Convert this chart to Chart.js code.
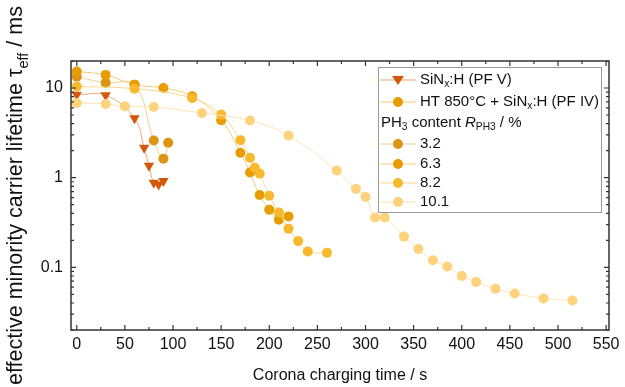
<!DOCTYPE html>
<html><head><meta charset="utf-8">
<script src="https://cdn.jsdelivr.net/npm/chart.js@4.4.0/dist/chart.umd.min.js"></script>
<style>html,body{margin:0;padding:0;background:#fff;}canvas{display:block;}</style>
</head><body>
<canvas id="c" width="625" height="387"></canvas>
<script>
// ---- tick labels ----
const xTickLabels = [0, 50, 100, 150, 200, 250, 300, 350, 400, 450, 500, 550];
const yTickLabels = [0.1, 1, 10];

// ---- series: SiNx:H (PF V) ----
const pfvTime = [0, 30, 60, 70, 75, 80, 85, 90];
const pfvTau  = [8.4, 8.3, 4.6, 2.15, 1.36, 0.88, 0.84, 0.92];

// ---- series: PH3 content 3.2 % ----
const p32Time = [0, 30, 60, 80, 90, 95];
const p32Tau  = [13.4, 11.4, 10.9, 2.6, 1.63, 2.45];

// ---- series: PH3 content 6.3 % ----
const p63Time = [0, 30, 60, 90, 120, 150, 170, 180, 190, 200, 210, 220];
const p63Tau  = [15.3, 14.0, 10.9, 10.0, 8.07, 4.37, 1.9, 1.14, 0.64, 0.44, 0.34, 0.37];

// ---- series: PH3 content 8.2 % ----
const p82Time = [0, 60, 120, 150, 170, 180, 185, 190, 200, 210, 220, 230, 240, 260];
const p82Tau  = [10.4, 9.8, 7.7, 5.05, 2.62, 1.67, 1.29, 1.11, 0.63, 0.41, 0.27, 0.196, 0.15, 0.145];

// ---- series: PH3 content 10.1 % ----
const p101Time = [0, 30, 50, 80, 130, 180, 220, 270, 290, 300, 310, 320, 340, 355, 370, 385, 400, 415, 435, 455, 485, 515];
const p101Tau  = [6.8, 6.64, 6.24, 6.15, 5.27, 4.33, 2.95, 1.2, 0.75, 0.61, 0.36, 0.36, 0.22, 0.16, 0.12, 0.102, 0.08, 0.0686, 0.0576, 0.051, 0.045, 0.0426];

const FONT = '"Liberation Sans", Arial, Helvetica, sans-serif';
const col = {
  pfv:  {m: '#d4580c', l: '#eea67a'},
  p32:  {m: '#dc9414', l: '#f0cf95'},
  p63:  {m: '#e79c00', l: '#f5cd7a'},
  p82:  {m: '#f8b92e', l: '#fbd98e'},
  p101: {m: '#fdd27c', l: '#fde4b4'}
};
function pts(t, v) { return t.map((x, i) => ({x: x, y: v[i]})); }
function ds(label, t, v, c, style) {
  return {
    label, data: pts(t, v),
    borderColor: c.l, borderWidth: 1,
    backgroundColor: c.m, pointBackgroundColor: c.m, pointBorderColor: c.m,
    pointBorderWidth: 0,
    pointStyle: style || 'circle',
    pointRotation: style === 'triangle' ? 180 : 0,
    pointRadius: style === 'triangle' ? 6 : 5,
    tension: 0.4, fill: false
  };
}

// rich text helper
function richWidth(ctx, parts, size) {
  let w = 0;
  for (const p of parts) {
    const s = p.sub ? size * 0.68 : size;
    ctx.font = (p.it ? 'italic ' : '') + s + 'px ' + FONT;
    w += ctx.measureText(p.t).width;
  }
  return w;
}
function drawRich(ctx, x, y, parts, size) {
  for (const p of parts) {
    const s = p.sub ? size * 0.68 : size;
    ctx.font = (p.it ? 'italic ' : '') + s + 'px ' + FONT;
    ctx.fillText(p.t, x, y + (p.sub ? size * 0.28 : 0));
    x += ctx.measureText(p.t).width;
  }
  return x;
}

const framePlugin = {
  id: 'frame',
  afterDraw(chart) {
    const ctx = chart.ctx, a = chart.chartArea;
    const xs = chart.scales.x, ys = chart.scales.y;
    ctx.save();
    ctx.strokeStyle = '#333'; ctx.lineWidth = 1.5;
    ctx.strokeRect(a.left, a.top, a.right - a.left, a.bottom - a.top);
    ctx.lineWidth = 1.2;
    ctx.beginPath();
    // x ticks
    for (let i = 0; i < xTickLabels.length; i++) {
      const v = xTickLabels[i];
      const px = xs.getPixelForValue(v);
      ctx.moveTo(px, a.bottom); ctx.lineTo(px, a.bottom - 5);
      ctx.moveTo(px, a.top); ctx.lineTo(px, a.top + 5);
      if (i < xTickLabels.length - 1) {
        const m = xs.getPixelForValue((v + xTickLabels[i + 1]) / 2);
        ctx.moveTo(m, a.bottom); ctx.lineTo(m, a.bottom - 3);
        ctx.moveTo(m, a.top); ctx.lineTo(m, a.top + 3);
      }
    }
    // y ticks (log)
    for (const dec of [0.01, 0.1, 1, 10]) {
      for (let k = 1; k <= 9; k++) {
        const v = dec * k;
        if (v < ys.min - 1e-9 || v > ys.max + 1e-9) continue;
        const py = ys.getPixelForValue(v);
        const len = k === 1 ? 5 : 3;
        ctx.moveTo(a.left, py); ctx.lineTo(a.left + len, py);
        ctx.moveTo(a.right, py); ctx.lineTo(a.right - len, py);
      }
    }
    ctx.stroke();

    // axis titles
    ctx.fillStyle = '#111';
    ctx.textBaseline = 'middle'; ctx.textAlign = 'center';
    ctx.font = '16px ' + FONT;
    ctx.fillText('Corona charging time / s', (a.left + a.right) / 2, 376);

    ctx.textAlign = 'left'; ctx.textBaseline = 'alphabetic';
    const yParts = [{t: 'effective minority carrier lifetime \u03C4'}, {t: 'eff', sub: true}, {t: ' / ms'}];
    const ysz = 21.5;
    const w = richWidth(ctx, yParts, ysz);
    ctx.translate(22, (a.top + a.bottom) / 2);
    ctx.rotate(-Math.PI / 2);
    drawRich(ctx, -w / 2, 0, yParts, ysz);
    ctx.restore();

    // legend
    ctx.save();
    const L = {x: 378, y: 67, w: 223, h: 145};
    ctx.fillStyle = '#fff';
    ctx.fillRect(L.x, L.y, L.w, L.h);
    ctx.strokeStyle = '#999'; ctx.lineWidth = 1;
    ctx.strokeRect(L.x + 0.5, L.y + 0.5, L.w, L.h);
    const rows = [
      {y: 80,  c: col.pfv, tri: true, parts: [{t: 'SiN'}, {t: 'x', sub: true}, {t: ':H (PF V)'}]},
      {y: 102, c: col.p63, parts: [{t: 'HT 850\u00B0C + SiN'}, {t: 'x', sub: true}, {t: ':H (PF IV)'}]},
      {y: 123, head: true, parts: [{t: 'PH'}, {t: '3', sub: true}, {t: ' content '}, {t: 'R', it: true}, {t: 'PH3', sub: true}, {t: ' / %'}]},
      {y: 144, c: col.p32, parts: [{t: '3.2'}]},
      {y: 164, c: col.p63, parts: [{t: '6.3'}]},
      {y: 183, c: col.p82, parts: [{t: '8.2'}]},
      {y: 202, c: col.p101, parts: [{t: '10.1'}]}
    ];
    ctx.textBaseline = 'middle';
    for (const r of rows) {
      ctx.fillStyle = '#111';
      if (r.head) { drawRich(ctx, 381, r.y, r.parts, 15); continue; }
      ctx.strokeStyle = r.c.l; ctx.lineWidth = 1.2;
      ctx.beginPath(); ctx.moveTo(380, r.y); ctx.lineTo(416, r.y); ctx.stroke();
      ctx.fillStyle = r.c.m;
      ctx.beginPath();
      if (r.tri) {
        ctx.moveTo(392, r.y - 4); ctx.lineTo(404, r.y - 4); ctx.lineTo(398, r.y + 5); ctx.closePath();
      } else {
        ctx.arc(398, r.y, 5, 0, Math.PI * 2);
      }
      ctx.fill();
      ctx.fillStyle = '#111';
      drawRich(ctx, 420, r.y, r.parts, 15);
    }
    ctx.restore();
  }
};

new Chart(document.getElementById('c'), {
  type: 'line',
  data: {
    datasets: [
      ds('10.1', p101Time, p101Tau, col.p101),
      ds('8.2', p82Time, p82Tau, col.p82),
      ds('6.3', p63Time, p63Tau, col.p63),
      ds('3.2', p32Time, p32Tau, col.p32),
      ds('SiNx:H (PF V)', pfvTime, pfvTau, col.pfv, 'triangle')
    ]
  },
  options: {
    responsive: false, animation: false,
    layout: {padding: {top: 61, right: 16, bottom: 0, left: 0}},
    plugins: {legend: {display: false}, tooltip: {enabled: false}, title: {display: false}},
    scales: {
      x: {
        type: 'linear', min: -6, max: 553,
        afterBuildTicks: s => { s.ticks = xTickLabels.map(v => ({value: v})); },
        afterFit: s => { s.height = 57; },
        grid: {display: false, drawTicks: false}, border: {display: false},
        ticks: {color: '#111', font: {family: FONT, size: 16}, padding: 5, maxRotation: 0, autoSkip: false,
                callback: v => String(v)}
      },
      y: {
        type: 'logarithmic', min: 0.02, max: 20,
        afterBuildTicks: s => { s.ticks = yTickLabels.map(v => ({value: v})); },
        afterFit: s => { s.width = 71; },
        grid: {display: false, drawTicks: false}, border: {display: false},
        ticks: {color: '#111', font: {family: FONT, size: 16}, padding: 8, autoSkip: false,
                callback: v => String(v)}
      }
    }
  },
  plugins: [framePlugin]
});
</script>
</body></html>
